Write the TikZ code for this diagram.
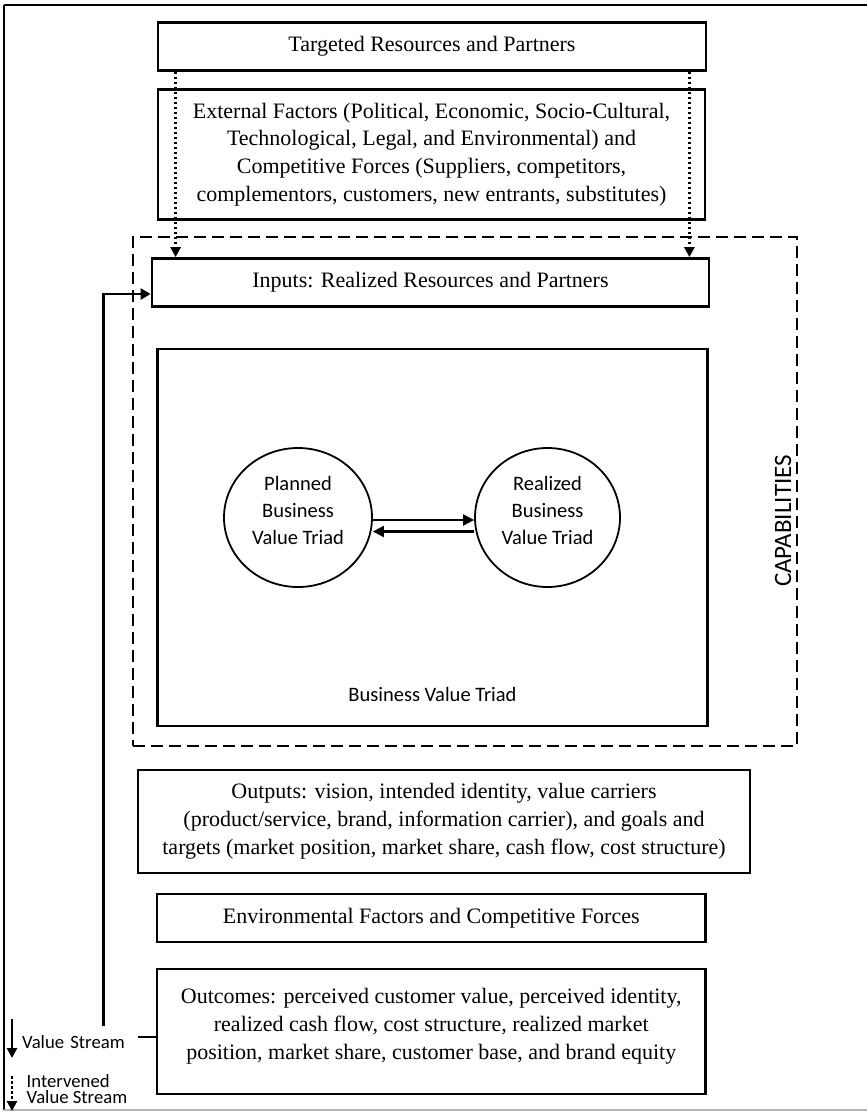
\documentclass[tikz,border=0pt]{standalone}
\usepackage{fontspec}
\setmainfont{Liberation Serif}
\newfontfamily\sansf{Carlito}
\usetikzlibrary{shapes.geometric,arrows.meta,calc}
\tikzset{
  box/.style={draw, line width=2.8pt, rectangle, inner sep=0pt, align=center,
    font=\fontsize{22}{27.8}\selectfont},
  oval/.style={draw, line width=1.8pt, ellipse, inner sep=0pt},
  sanstxt/.style={font=\sansf\fontsize{20.5}{27}\selectfont, align=center},
  legtxt/.style={font=\sansf\fontsize{18.7}{16.5}\selectfont, align=left},
  dotarrow/.style={line width=2.5pt, dash pattern=on 2.5pt off 2.5pt, -{Triangle[width=10pt,length=10pt]}},
  flow/.style={line width=2.8pt, -{Triangle[width=11pt,length=10pt]}},
  pairarrow/.style={line width=2.2pt, -{Triangle[width=11pt,length=11pt]}},
  capframe/.style={draw, line width=1.5pt, dash pattern=on 12pt off 6pt, rectangle, inner sep=0pt}
}
\begin{document}
\begin{tikzpicture}[x=1pt,y=-1pt]
\useasboundingbox (0,0) rectangle (867,1114);
% outer frame
\draw[line width=1.8pt] (867,5) -- (4,5);
\draw[line width=1.2pt] (4,5) -- (4,1110);
\draw[line width=1.8pt, gray!60] (4,1110) -- (867,1110);

% boxes
\node[box, minimum width=548pt, minimum height=48pt] (tgt) at (432,46.5) {Targeted Resources and Partners};
\node[box, minimum width=547pt, minimum height=130pt] (ext) at (431.5,154.5)
  {External Factors (Political, Economic, Socio-Cultural,\\
   Technological, Legal, and Environmental) and\\
   Competitive Forces (Suppliers, competitors,\\
   complementors, customers, new entrants, substitutes)};
\node[capframe, minimum width=664pt, minimum height=509pt] (capab) at (465,491.5) {};
\node[box, minimum width=557pt, minimum height=48pt] (inp) at (430.5,282.5) {Inputs: Realized Resources and Partners};
\node[box, line width=2.3pt, minimum width=550pt, minimum height=377pt] (bvt) at (432.5,537.5) {};
\node[sanstxt] (bvtl) at (432.5,694) {Business Value Triad};
\node[sanstxt, font=\sansf\fontsize{25}{27}\selectfont, rotate=90] (capl) at (783,521) {CAPABILITIES};

\node[oval, minimum width=148pt, minimum height=139pt] (planned) at (298,517.5) {};
\node[oval, minimum width=145pt, minimum height=139pt] (realized) at (547.5,517.5) {};
\node[sanstxt] (plannedt) at ([yshift=7pt]planned.center) {Planned\\Business\\Value Triad};
\node[sanstxt] (realizedt) at ([yshift=7pt]realized.center) {Realized\\Business\\Value Triad};
\draw[pairarrow] ([yshift=-2.5pt]planned.east) -- ([yshift=-2.5pt]realized.west);
\draw[pairarrow] ([yshift=-14pt]realized.west) -- ([yshift=-14pt]planned.east);

\node[box, minimum width=612pt, minimum height=103pt] (outp) at (444,821.5)
  {Outputs: vision, intended identity, value carriers\\
   (product/service, brand, information carrier), and goals and\\
   targets (market position, market share, cash flow, cost structure)};
\node[box, minimum width=548.5pt, minimum height=48pt] (env) at (431.25,918) {Environmental Factors and Competitive Forces};
\node[box, minimum width=548.5pt, minimum height=125pt] (outc) at (431.25,1031.5) {};
\node[box, draw=none] (outct) at ([yshift=5pt]outc.center)
  {Outcomes: perceived customer value, perceived identity,\\
   realized cash flow, cost structure, realized market\\
   position, market share, customer base, and brand equity};

% dotted arrows
\draw[dotarrow] ([xshift=19pt]tgt.south west) -- ([xshift=19pt]tgt.south west |- inp.north);
\draw[dotarrow] ([xshift=-18pt]tgt.south east) -- ([xshift=-18pt]tgt.south east |- inp.north);

% value stream connector
\draw[flow] ([yshift=-5.5pt]outc.west) -- ++(-52,0) |- ([yshift=-11.5pt]inp.west);

% legend
\node[legtxt, fill=white, inner xsep=4pt, inner ysep=0pt, text width=112pt,
      minimum height=32pt, anchor=north west] (vs) at (18,1026) {Value Stream};
\node[legtxt, inner xsep=0pt, anchor=west] (ivs) at (26.5,1089) {Intervened\\Value Stream};
\coordinate (l1a) at (12,1019);
\coordinate (l1b) at (12,1058);
\coordinate (l2a) at (12,1076);
\coordinate (l2b) at (12,1111);
\draw[line width=2.5pt, -{Triangle[width=10pt,length=10pt]}] (l1a) -- (l1b);
\draw[dotarrow] (l2a) -- (l2b);
\end{tikzpicture}
\end{document}
